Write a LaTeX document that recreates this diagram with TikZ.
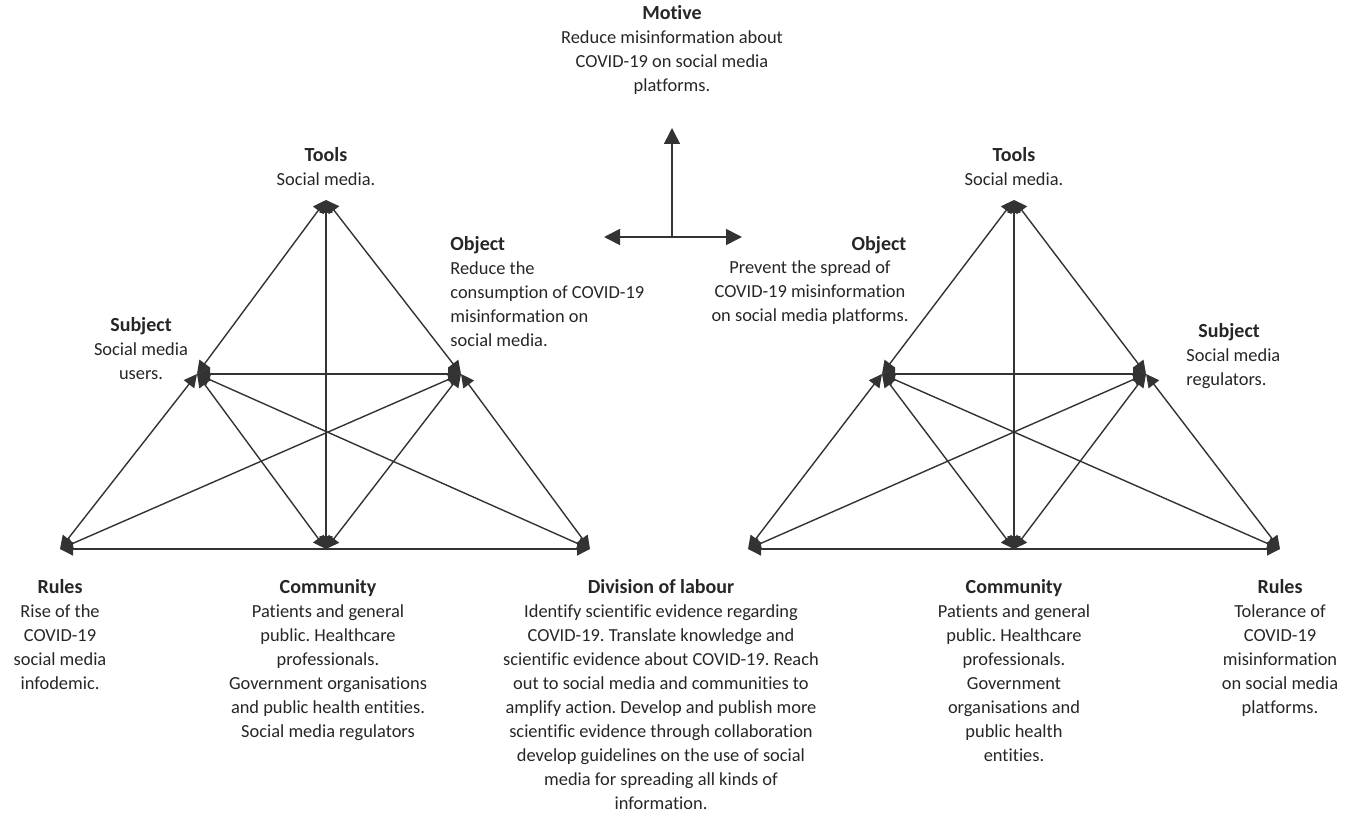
\documentclass[tikz,border=0pt]{standalone}
\usepackage{fontspec}
\setmainfont{Carlito}[Ligatures=NoCommon]
\usetikzlibrary{arrows.meta}
\frenchspacing
\newcommand{\ttl}[1]{{\fontsize{10}{12}\selectfont\bfseries #1}}
\begin{document}
\begin{tikzpicture}[x=0.5pt,y=-0.5pt,line join=round,line cap=round,
	link/.style={draw=black!80,line width=0.7pt,{Triangle[length=6.5pt,width=6.5pt]}-{Triangle[length=6.5pt,width=6.5pt]}},
	ray/.style={draw=black!80,line width=0.8pt,-{Triangle[length=8pt,width=8pt]}},
	txt/.style={font=\fontsize{9.2}{12}\selectfont,align=center,inner sep=0pt,anchor=north,text=black!85}]
	\useasboundingbox (0,0) rectangle (1354,818);
	% left triangle
	\path
	(326,200) coordinate(lT)
	(197,374) coordinate(lS)
	(461,374) coordinate(lO)
	(60,549) coordinate(lR)
	(326,549) coordinate(lC)
	(590,549) coordinate(lD)
	;
	\foreach \a/\b in{lT/lS,lT/lO,lT/lC,lS/lO,lS/lR,lS/lC,lS/lD,lO/lR,lO/lC,lO/lD,lR/lD}\draw[link](\a)--(\b);
	% right triangle
	\path
	(1014,200) coordinate(rT)
	(882,374) coordinate(rO)
	(1146,374) coordinate(rS)
	(748,549) coordinate(rD)
	(1014,549) coordinate(rC)
	(1280,549) coordinate(rR)
	;
	\foreach \a/\b in{rT/rO,rT/rS,rT/rC,rO/rS,rO/rD,rO/rC,rO/rR,rS/rD,rS/rC,rS/rR,rD/rR}\draw[link](\a)--(\b);
	% motive arrows
	\path
	(672,237) coordinate(m0)
	(672,128) coordinate(mU)
	(604,237) coordinate(mL)
	(742,237) coordinate(mR)
	;
	\foreach \d in{mU,mL,mR}\draw[ray](m0)--(\d);
	% labels
	\node[txt] (motive) at (672,5) {\ttl{Motive}\\Reduce misinformation about\\COVID-19 on social media\\platforms.};
	\node[txt] (ltools) at (326,147) {\ttl{Tools}\\Social media.};
	\node[txt] (lsubj) at (141,317) {\ttl{Subject}\\Social media\\users.};
	\node[txt,align=left,anchor=north west] (lobj) at (450,236) {\ttl{Object}\\Reduce the\\consumption of COVID-19\\misinformation on\\social media.};
	\node[txt] (lrules) at (60,579) {\ttl{Rules}\\Rise of the\\COVID-19\\social media\\infodemic.};
	\node[txt] (lcomm) at (328,579) {\ttl{Community}\\Patients and general\\public. Healthcare\\professionals.\\Government organisations\\and public health entities.\\Social media regulators};
	\node[txt] (div) at (661,579) {\ttl{Division of labour}\\Identify scientific evidence regarding\\COVID-19. Translate knowledge and\\scientific evidence about COVID-19. Reach\\out to social media and communities to\\amplify action. Develop and publish more\\scientific evidence through collaboration\\develop guidelines on the use of social\\media for spreading all kinds of\\information.};
	\node[txt] (rtools) at (1014,147) {\ttl{Tools}\\Social media.};
	\node[txt] (robjttl) at (879,236) {\ttl{Object}};
	\node[txt] (robj) at (810,260) {Prevent the spread of\\COVID-19 misinformation\\on social media platforms.};
	\node[txt,align=left,anchor=north west] (rsubj) at (1186,323) {\hspace*{6pt}\ttl{Subject}\\Social media\\regulators.};
	\node[txt] (rcomm) at (1014,579) {\ttl{Community}\\Patients and general\\public. Healthcare\\professionals.\\Government\\organisations and\\public health\\entities.};
	\node[txt] (rrules) at (1280,579) {\ttl{Rules}\\Tolerance of\\COVID-19\\misinformation\\on social media\\platforms.};
\end{tikzpicture}
\end{document}
